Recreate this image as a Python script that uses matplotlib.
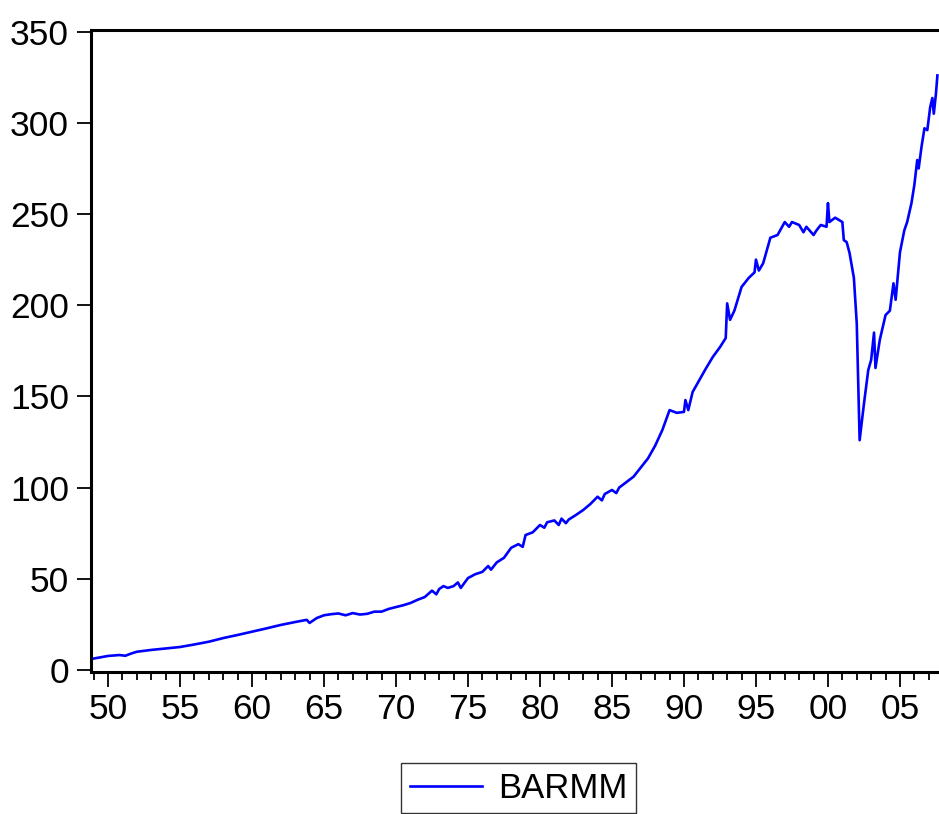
import matplotlib
matplotlib.use("Agg")
import matplotlib.pyplot as plt
from matplotlib.ticker import MultipleLocator, FuncFormatter

# Series BARMM (decimal year, value)
years = [1948.82, 1949.5, 1950.0, 1950.8, 1951.2, 1951.6, 1952.0, 1953.0, 1954.0,
         1955.0, 1956.0, 1957.0, 1958.0, 1959.0, 1960.0, 1961.0, 1962.0, 1963.0,
         1963.8, 1964.0, 1964.5, 1965.0, 1965.5, 1966.0, 1966.5, 1967.0, 1967.5,
         1968.0, 1968.5, 1969.0, 1969.5, 1970.0, 1970.5, 1971.0, 1971.5, 1972.0,
         1972.5, 1972.8, 1973.0, 1973.3, 1973.6, 1974.0, 1974.3, 1974.5, 1975.0,
         1975.5, 1976.0, 1976.4, 1976.6, 1977.0, 1977.5, 1978.0, 1978.5, 1978.8,
         1979.0, 1979.5, 1980.0, 1980.3, 1980.5, 1981.0, 1981.3, 1981.5, 1981.8,
         1982.0, 1982.5, 1983.0, 1983.5, 1984.0, 1984.3, 1984.5, 1985.0, 1985.3,
         1985.5, 1986.0, 1986.5, 1987.0, 1987.5, 1988.0, 1988.5, 1989.0, 1989.5,
         1990.0, 1990.1, 1990.3, 1990.6, 1991.0, 1991.5, 1992.0, 1992.5, 1992.9,
         1993.0, 1993.2, 1993.5, 1994.0, 1994.5, 1994.9, 1995.0, 1995.2, 1995.5,
         1996.0, 1996.5, 1997.0, 1997.3, 1997.5, 1998.0, 1998.3, 1998.5, 1999.0,
         1999.2, 1999.5, 1999.9, 2000.0, 2000.1, 2000.5, 2001.0, 2001.1, 2001.3,
         2001.5, 2001.8, 2002.0, 2002.2, 2002.5, 2002.8, 2003.0, 2003.2, 2003.3,
         2003.6, 2004.0, 2004.3, 2004.55, 2004.7, 2005.0, 2005.3, 2005.5, 2005.8,
         2006.0, 2006.2, 2006.3, 2006.5, 2006.7, 2006.9, 2007.1, 2007.25, 2007.35,
         2007.5, 2007.6]
barmm = [6.0, 7.0, 7.7, 8.2, 7.8, 9.0, 10.0, 11.0, 11.8,
         12.6, 14.0, 15.5, 17.5, 19.2, 21.0, 22.8, 24.7, 26.3,
         27.5, 25.8, 28.5, 30.0, 30.6, 31.0, 30.0, 31.2, 30.4,
         30.8, 32.0, 32.0, 33.5, 34.5, 35.5, 36.7, 38.5, 40.0,
         43.5, 41.5, 44.4, 46.0, 45.0, 46.0, 48.0, 45.0, 50.4,
         52.5, 53.8, 57.0, 55.0, 59.0, 61.5, 67.0, 69.0, 67.5,
         74.0, 75.5, 79.5, 78.0, 81.0, 82.0, 79.5, 83.0, 80.5,
         82.5, 85.0, 87.7, 91.0, 95.0, 93.0, 96.5, 98.7, 97.0,
         100.0, 103.0, 106.0, 111.0, 116.0, 123.0, 131.6, 142.5, 141.0,
         141.5, 148.0, 142.5, 152.4, 158.0, 165.0, 171.6, 177.0, 182.0,
         201.0, 192.0, 197.0, 210.0, 215.0, 218.0, 225.0, 219.0, 223.0,
         237.0, 238.5, 245.6, 243.0, 245.6, 244.0, 240.0, 243.0, 238.5,
         241.0, 244.0, 243.0, 256.0, 245.6, 248.0, 245.6, 235.7, 234.6,
         228.6, 215.0, 190.0, 126.0, 146.0, 164.5, 170.0, 185.0, 165.6,
         181.0, 194.6, 197.0, 212.0, 203.0, 229.0, 241.0, 245.6, 256.0,
         266.0, 279.6, 275.0, 287.0, 297.0, 296.0, 308.6, 313.6, 305.0,
         316.0, 326.0]

W, H = 939, 814
fig = plt.figure(figsize=(W / 100, H / 100), dpi=100)
plt.rcParams['font.family'] = ['Liberation Sans', 'DejaVu Sans']

left, right, top, bottom = 91, 942, 30, 672
ax = fig.add_axes([left / W, 1 - bottom / H, (right - left) / W, (bottom - top) / H])

ax.plot(years, barmm, color='#0000ff', lw=1.9, label='BARMM')

ax.set_xlim(1948.82, 2007.92)
ax.set_ylim(-1.1, 350.9)

ax.yaxis.set_major_locator(MultipleLocator(50))
ax.xaxis.set_major_locator(MultipleLocator(5))
ax.xaxis.set_minor_locator(MultipleLocator(1))
ax.xaxis.set_major_formatter(FuncFormatter(lambda v, p: f"{int(round(v)) % 100:02d}"))

for s in ax.spines.values():
    s.set_linewidth(2.2)
ax.spines['right'].set_visible(False)

ax.tick_params(axis='y', which='major', direction='out', length=10, width=1.3,
               labelsize=25.5, pad=6)
ax.tick_params(axis='x', which='major', direction='out', length=11, width=1.3,
               labelsize=25.5, pad=4)
ax.tick_params(axis='x', which='minor', direction='out', length=6, width=1.3)

leg = fig.legend(loc='upper center', bbox_to_anchor=(518.5 / W, 1 - 763 / H),
                 fontsize=25, frameon=True, fancybox=False, edgecolor='black',
                 handlelength=2.1, handletextpad=0.45, borderpad=0.25,
                 borderaxespad=0)
leg.get_frame().set_linewidth(1.0)

fig.savefig('out.png', dpi=100)
